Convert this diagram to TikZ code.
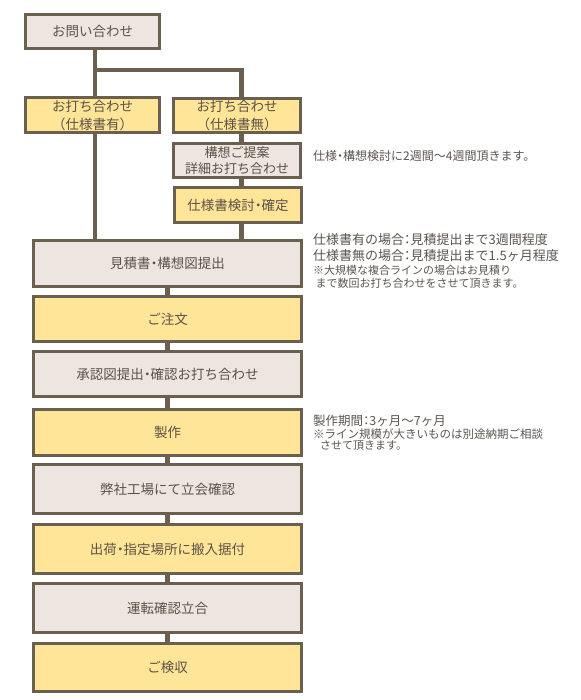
\documentclass[tikz,border=0pt]{standalone}
\usepackage{fontspec}
\setmainfont{Noto Sans CJK JP}
\newfontfamily\jpp[RawFeature=+palt]{Noto Sans CJK JP}
\newcommand{\nd}{{\jpp ・}}
\newcommand{\nc}{{\jpp ：}}
\definecolor{lc}{HTML}{6B5F4F}
\definecolor{gf}{HTML}{EDE6E0}
\definecolor{yf}{HTML}{FFE597}
\definecolor{tc}{HTML}{5C5147}
\definecolor{ntc}{HTML}{5A5550}
\begin{document}
\begin{tikzpicture}[x=1pt,y=-1pt,
  box/.style={draw=lc, line width=3pt, text=tc, font=\fontsize{13.5}{18}\selectfont, inner sep=0pt, align=center},
  grey/.style={box, fill=gf},
  yel/.style={box, fill=yf},
  conn/.style={draw=lc, line width=4.5pt, line join=miter},
  note/.style={text=ntc, anchor=west, inner sep=0pt, align=left}]
\useasboundingbox (0,0) rectangle (580,700);
\fill[white] (0,0) rectangle (580,700);

% top part
\node[grey, minimum width=134pt, minimum height=34pt] (q) at (92.5,31.5) {お問い合わせ};
\node[yel, minimum width=134pt, minimum height=35pt] (l1) at (92.5,115) {お打ち合わせ\\（仕様書有）};
\node[yel, minimum width=127pt, minimum height=34pt] (r1) at (237,115.5) {お打ち合わせ\\（仕様書無）};
\node[grey, minimum width=127pt, minimum height=34pt, font=\fontsize{13}{16}\selectfont] (r2) at (237,160.5) {構想ご提案\\詳細お打ち合わせ};
\node[yel, minimum width=127pt, minimum height=35pt] (r3) at (238,205) {仕様書検討\nd 確定};

% main chain
\node[grey, minimum width=268pt, minimum height=46pt] (m1) at (167.5,263.5) {見積書\nd 構想図提出};
\node[yel,  minimum width=268pt, minimum height=45pt] (m2) at (167.5,319) {ご注文};
\node[grey, minimum width=268pt, minimum height=45pt] (m3) at (167.5,374) {承認図提出\nd 確認お打ち合わせ};
\node[yel,  minimum width=268pt, minimum height=46pt] (m4) at (167.5,432.5) {製作};
\node[grey, minimum width=268pt, minimum height=49pt] (m5) at (167.5,489) {弊社工場にて立会確認};
\node[yel,  minimum width=268pt, minimum height=49pt] (m6) at (167.5,549) {出荷\nd 指定場所に搬入据付};
\node[grey, minimum width=268pt, minimum height=49pt] (m7) at (167.5,608) {運転確認立合};
\node[yel,  minimum width=268pt, minimum height=48pt] (m8) at (167.5,667.5) {ご検収};

% connectors
\coordinate (jl) at (95,70);
\coordinate (jr) at (241.5,70);
\draw[conn] ([xshift=2.5pt]q.south) -- ([xshift=2.5pt]l1.north);
\draw[conn] (jl) -- (jr) -- ([xshift=4.5pt]r1.north);
\draw[conn] ([xshift=4.5pt]r1.south) -- ([xshift=4.5pt]r2.north);
\draw[conn] ([xshift=4.5pt]r2.south) -- ([xshift=3.5pt]r3.north);
\draw[conn] ([xshift=3.5pt]r3.south) -- ([xshift=3.5pt]r3.south |- m1.north);
\draw[conn] ([xshift=2.5pt]l1.south) -- ([xshift=2.5pt]l1.south |- m1.north);
\draw[conn] (m1.south) -- (m2.north);
\draw[conn] (m2.south) -- (m3.north);
\draw[conn] (m3.south) -- (m4.north);
\draw[conn] (m4.south) -- (m5.north);
\draw[conn] (m5.south) -- (m6.north);
\draw[conn] (m6.south) -- (m7.north);
\draw[conn] (m7.south) -- (m8.north);

% notes
\node[note, font=\fontsize{12}{14}\selectfont] (n1) at (313,156) {仕様\nd 構想検討に2週間～4週間頂きます。};
\node[note, font=\fontsize{13}{15}\selectfont] (n2) at (313,240) {仕様書有の場合\nc 見積提出まで3週間程度};
\node[note, font=\fontsize{13}{15}\selectfont] (n3) at (313,256) {仕様書無の場合\nc 見積提出まで1.5ヶ月程度};
\node[note, font=\fontsize{11}{13}\selectfont] (n4) at (313,270) {※大規模な複合ラインの場合はお見積り};
\node[note, font=\fontsize{11}{13}\selectfont] (n5) at (315.5,283) {まで数回お打ち合わせをさせて頂きます。};
\node[note, font=\fontsize{12.5}{14}\selectfont] (n6) at (313,421) {製作期間\nc 3ヶ月～7ヶ月};
\node[note, font=\fontsize{11.5}{13}\selectfont] (n7) at (313,434) {※ライン規模が大きいものは別途納期ご相談};
\node[note, font=\fontsize{11}{13}\selectfont] (n8) at (320,446) {させて頂きます。};
\end{tikzpicture}
\end{document}
